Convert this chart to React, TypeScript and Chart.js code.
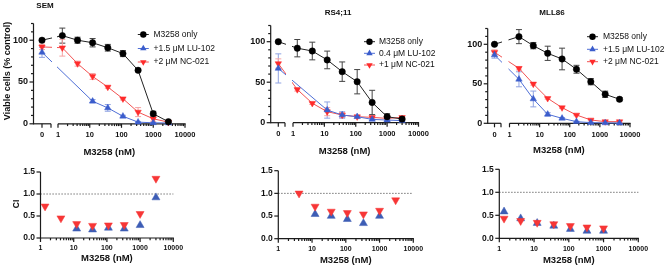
import { useEffect, useRef } from 'react';
import { Chart, registerables } from 'chart.js';

Chart.register(...registerables);

const W = 669;
const H = 268;
const FONT = '"Liberation Sans", Arial, Helvetica, sans-serif';
const AXIS = '#1b1b1b';
const TEXT = '#111111';

// ---------------- data ----------------
// concentrations (nM); 0 = no M3258
const concSem = [0, 1.37, 4.12, 12.3, 37, 111, 333, 1000, 3000];
const concSemLu = [0, 12.3, 37, 111, 333, 1000, 3000];
const concRs = [0, 1.37, 4.12, 12.3, 37, 111, 333, 1000, 3000];
const concRsLu = [0, 12.3, 37, 111, 333, 1000, 3000];
const concMll = [0, 2.06, 6.17, 18.5, 55.6, 167, 500, 1500, 4500];

// viability (% control) with error
const semOnly = [100, 105.5, 100, 97, 91, 84, 64, 12, 2.5];
const semOnlyErr = [1.5, 9, 3.6, 5, 4, 3.6, 1.5, 3, 1];
const semLu = [85.5, 27, 19, 9, 2, 1.2, 1];
const semLuErr = [6, 2, 4, 1.2, 0.8, 0.5, 0.5];
const semNc = [92, 91, 72, 56.7, 44, 30, 14, 6, 2];
const semNcErr = [3.2, 10, 3, 3.5, 1.5, 1.5, 5.4, 3, 1];

const rsOnly = [100, 92, 88.5, 77.5, 63, 50.6, 25, 7.4, 4.5];
const rsOnlyErr = [1, 10.7, 10.9, 10.9, 12, 15, 15, 3.7, 1];
const rsLu = [67, 15.6, 9.5, 7.4, 4.1, 3.3, 2.5];
const rsLuErr = [18, 10, 4, 1.5, 1, 1, 0.5];
const rsNc = [73, 41, 24, 13.6, 9.5, 7.4, 6.6, 5.3, 6.6];
const rsNcErr = [5.8, 2, 1.5, 5, 3, 1.5, 1, 1, 1];

const mllOnly = [100, 109.7, 98.3, 88.6, 81.4, 68.4, 52.7, 36.7, 30.4];
const mllOnlyErr = [1, 8.9, 4, 9, 13.7, 5, 4, 4, 2];
const mllLu = [86.5, 55.7, 30.8, 11.4, 6.3, 2.1, 0.8, 0.5, 0.3];
const mllLuErr = [4, 9.5, 10, 2, 1, 0.5, 0.5, 0.5, 0.5];
const mllNc = [89.9, 69.6, 49.8, 31.6, 19.8, 10.5, 4.2, 2.1, 2.1];
const mllNcErr = [3, 2, 1.5, 1, 1, 1, 1, 1, 1];

// combination index
const semCiConcNc = [1.37, 4.12, 12.3, 37, 111, 333, 1000, 3000];
const semCiNc = [0.72, 0.45, 0.32, 0.28, 0.29, 0.3, 0.55, 1.35];
const semCiConcLu = [12.3, 37, 111, 333, 1000, 3000];
const semCiLu = [0.21, 0.19, 0.23, 0.21, 0.29, 0.92];

const rsCiConcNc = [4.12, 12.3, 37, 111, 333, 1000, 3000];
const rsCiNc = [1.0, 0.71, 0.6, 0.57, 0.54, 0.62, 0.85];
const rsCiConcLu = [12.3, 37, 111, 333, 1000];
const rsCiLu = [0.54, 0.5, 0.43, 0.34, 0.5];

const mllCiConc = [1.37, 4.12, 12.3, 37, 111, 333, 1000];
const mllCiLu = [0.58, 0.43, 0.33, 0.27, 0.2, 0.16, 0.16];
const mllCiNc = [0.43, 0.38, 0.34, 0.31, 0.27, 0.24, 0.22];

// ticks / labels
const yTicksTop = [0, 50, 100];
const yMinorTop = [0, 10, 20, 30, 40, 50, 60, 70, 80, 90, 100, 110, 120];
const yTicksCi = [0, 0.5, 1.0, 1.5];
const xTicksLog = [1, 10, 100, 1000, 10000];
const xZeroTick = [0];
const ciReference = 1.0;

const legendSem = ['M3258 only', '+1.5 \u03bcM LU-102', '+2 \u03bcM NC-021'];
const legendRs = ['M3258 only', '0.4 \u03bcM LU-102', '+1 \u03bcM NC-021'];
const legendMll = ['M3258 only', '+1.5 \u03bcM LU-102', '+2 \u03bcM NC-021'];

const titles = ['SEM', 'RS4;11', 'MLL86'];
const xTitle = 'M3258 (nM)';
const yTitleTop = 'Viable cells (% control)';
const yTitleCi = 'CI';

// ---------------- styles ----------------
interface Style { line: string; fill: string; err: string; shape: string; rot: number; r: number }
const ST_ONLY: Style = { line: '#222222', fill: '#000000', err: '#444444', shape: 'circle', rot: 0, r: 3.2 };
const ST_LU: Style = { line: '#4f6fd6', fill: '#3b5dcc', err: '#8fa2e2', shape: 'triangle', rot: 0, r: 3.7 };
const ST_NC: Style = { line: '#f25252', fill: '#ff2b2b', err: '#f6a3a3', shape: 'triangle', rot: 180, r: 3.7 };
const CI_LU: Style = { line: '#3d5db5', fill: '#3d5db5', err: '#3d5db5', shape: 'triangle', rot: 0, r: 4.6 };
const CI_NC: Style = { line: '#f73636', fill: '#f73636', err: '#f73636', shape: 'triangle', rot: 180, r: 4.6 };

// ---------------- helpers ----------------
function seg(ctx: CanvasRenderingContext2D, x0: number, y0: number, x1: number, y1: number) {
  ctx.beginPath();
  ctx.moveTo(x0, y0);
  ctx.lineTo(x1, y1);
  ctx.stroke();
}

function marker(ctx: CanvasRenderingContext2D, st: Style, x: number, y: number) {
  ctx.fillStyle = st.fill;
  ctx.beginPath();
  if (st.shape === 'circle') {
    ctx.arc(x, y, st.r, 0, Math.PI * 2);
  } else {
    let rad = (st.rot * Math.PI) / 180;
    ctx.moveTo(x + Math.sin(rad) * st.r, y - Math.cos(rad) * st.r);
    for (let k = 0; k < 2; k++) {
      rad += (2 * Math.PI) / 3;
      ctx.lineTo(x + Math.sin(rad) * st.r, y - Math.cos(rad) * st.r);
    }
    ctx.closePath();
  }
  ctx.fill();
}

function pointDataset(points: { x: number; y: number }[], st: Style, showLine: boolean, errs?: number[]) {
  return {
    data: points,
    errs,
    errColor: st.err,
    showLine,
    borderColor: st.line,
    borderWidth: 1,
    pointStyle: st.shape,
    pointRotation: st.rot,
    pointRadius: st.r,
    pointHoverRadius: st.r,
    pointBackgroundColor: st.fill,
    pointBorderColor: st.fill,
    pointBorderWidth: 0.5,
    tension: 0,
    clip: false,
  } as any;
}

function drawErrors(chart: any) {
  const ctx: CanvasRenderingContext2D = chart.ctx;
  const xs = chart.scales.x;
  const ys = chart.scales.y;
  chart.data.datasets.forEach((ds: any) => {
    if (!ds.errs) return;
    ctx.strokeStyle = ds.errColor;
    ctx.lineWidth = 1;
    ds.data.forEach((pt: any, i: number) => {
      const e = ds.errs[i];
      if (!e) return;
      const x = xs.getPixelForValue(pt.x);
      const y0 = ys.getPixelForValue(pt.y + e);
      const y1 = ys.getPixelForValue(Math.max(0, pt.y - e));
      seg(ctx, x, y0, x, y1);
      seg(ctx, x - 3, y0, x + 3, y0);
      seg(ctx, x - 3, y1, x + 3, y1);
    });
  });
}

function drawLegend(ctx: CanvasRenderingContext2D, labels: string[], styles: Style[], mx: number, tx: number, ys: number[]) {
  ctx.save();
  ctx.font = `8.5px ${FONT}`;
  ctx.textAlign = 'left';
  ctx.textBaseline = 'middle';
  labels.forEach((lab, i) => {
    const st = styles[i];
    ctx.strokeStyle = st.line;
    ctx.lineWidth = 1;
    seg(ctx, mx - 5.5, ys[i], mx + 5.5, ys[i]);
    marker(ctx, st, mx, ys[i]);
    ctx.fillStyle = TEXT;
    ctx.fillText(lab, tx, ys[i]);
  });
  ctx.restore();
}

function text(ctx: CanvasRenderingContext2D, s: string, x: number, y: number, font: string, rot = 0) {
  ctx.save();
  ctx.translate(x, y);
  if (rot) ctx.rotate(rot);
  ctx.font = font;
  ctx.fillStyle = TEXT;
  ctx.textAlign = 'center';
  ctx.textBaseline = 'middle';
  ctx.fillText(s, 0, 0);
  ctx.restore();
}

function logMinors(): number[] {
  const out: number[] = [];
  for (let k = 0; k < 4; k++) for (let m = 2; m <= 9; m++) out.push(m * Math.pow(10, k));
  return out;
}

// ---------------- panels ----------------
interface Geo { left: number; right: number; top: number; bottom: number }
interface TopPanel {
  g: Geo & { zeroX: number; segEndX: number; oneX: number };
  series: { conc: number[]; vals: number[]; errs: number[]; st: Style }[];
  legend: string[];
  legMX: number;
  legTX: number;
  legY: number[];
  title: string;
  titleX: number;
  titleY: number;
  xTitleY: number;
  yTitle?: boolean;
}

function topConfig(p: TopPanel): any {
  const g = p.g;
  const D = (g.right - g.oneX) / 4;
  const G = (g.oneX - g.zeroX) / D;
  const pMin = -(g.zeroX - g.left) / D;
  const pMax = G + 4;
  const pos = (c: number) => (c === 0 ? 0 : G + Math.log10(c));
  const segEndP = (g.segEndX - g.zeroX) / D;

  const datasets = p.series.map((s) =>
    pointDataset(s.conc.map((c, i) => ({ x: pos(c), y: s.vals[i] })), s.st, true, s.errs)
  );

  const plugin = {
    id: 'topfig',
    beforeDatasetsDraw(chart: any) {
      const ctx: CanvasRenderingContext2D = chart.ctx;
      const a = chart.chartArea;
      const xs = chart.scales.x;
      const ys = chart.scales.y;
      ctx.save();
      ctx.strokeStyle = AXIS;
      ctx.lineWidth = 1.2;
      // y axis
      seg(ctx, a.left, a.top, a.left, a.bottom + 0.6);
      yMinorTop.forEach((v) => {
        const y = ys.getPixelForValue(v);
        seg(ctx, a.left - (yTicksTop.includes(v) ? 4 : 2.5), y, a.left, y);
      });
      ctx.fillStyle = TEXT;
      ctx.font = `bold 9px ${FONT}`;
      ctx.textAlign = 'right';
      ctx.textBaseline = 'middle';
      yTicksTop.forEach((v) => ctx.fillText(String(v), a.left - 5.5, ys.getPixelForValue(v)));
      // x axis: zero segment
      const yb = a.bottom;
      const segEndPx = xs.getPixelForValue(segEndP);
      seg(ctx, a.left, yb, segEndPx, yb);
      xZeroTick.forEach((v) => seg(ctx, xs.getPixelForValue(pos(v)), yb, xs.getPixelForValue(pos(v)), yb + 4));
      seg(ctx, segEndPx, yb, segEndPx, yb + 4);
      // log segment
      const onePx = xs.getPixelForValue(pos(1));
      seg(ctx, onePx, yb, a.right + 0.6, yb);
      xTicksLog.forEach((v) => {
        const x = xs.getPixelForValue(pos(v));
        seg(ctx, x, yb, x, yb + 4);
      });
      logMinors().forEach((v) => {
        const x = xs.getPixelForValue(pos(v));
        seg(ctx, x, yb, x, yb + 2.3);
      });
      ctx.font = `bold 7.5px ${FONT}`;
      ctx.textAlign = 'center';
      [...xZeroTick, ...xTicksLog].forEach((v) => ctx.fillText(String(v), xs.getPixelForValue(pos(v)), yb + 11.5));
      drawErrors(chart);
      ctx.restore();
    },
    afterDatasetsDraw(chart: any) {
      const ctx: CanvasRenderingContext2D = chart.ctx;
      const a = chart.chartArea;
      const xs = chart.scales.x;
      const x0 = xs.getPixelForValue(segEndP) + 1;
      const x1 = xs.getPixelForValue(pos(1)) - 1;
      ctx.save();
      ctx.fillStyle = '#ffffff';
      ctx.fillRect(x0, a.top - 2, x1 - x0, a.bottom - a.top + 1);
      ctx.restore();
    },
    afterDraw(chart: any) {
      const ctx: CanvasRenderingContext2D = chart.ctx;
      const a = chart.chartArea;
      drawLegend(ctx, p.legend, p.series.map((s) => s.st), p.legMX, p.legTX, p.legY);
      text(ctx, p.title, p.titleX, p.titleY, `bold 8px ${FONT}`);
      text(ctx, xTitle, (a.left + a.right) / 2, p.xTitleY, `bold 9.5px ${FONT}`);
      if (p.yTitle) text(ctx, yTitleTop, 8, 71, `bold 9px ${FONT}`, -Math.PI / 2);
    },
  };

  return {
    type: 'line',
    data: { datasets },
    options: {
      responsive: false,
      animation: false,
      events: [],
      layout: { padding: { left: g.left, right: W - g.right, top: g.top, bottom: H - g.bottom } },
      plugins: { legend: { display: false }, tooltip: { enabled: false }, title: { display: false } },
      scales: {
        x: { type: 'linear', display: false, min: pMin, max: pMax, bounds: 'data' },
        y: { type: 'linear', display: false, min: 0, max: 120, bounds: 'data' },
      },
    },
    plugins: [plugin],
  };
}

interface CiPanel {
  g: Geo;
  series: { conc: number[]; vals: number[]; st: Style }[];
  xTitleY: number;
  yTitle?: boolean;
}

function ciConfig(p: CiPanel): any {
  const g = p.g;
  const datasets = p.series.map((s) =>
    pointDataset(s.conc.map((c, i) => ({ x: c, y: s.vals[i] })), s.st, false)
  );
  const plugin = {
    id: 'cifig',
    beforeDatasetsDraw(chart: any) {
      const ctx: CanvasRenderingContext2D = chart.ctx;
      const a = chart.chartArea;
      const xs = chart.scales.x;
      const ys = chart.scales.y;
      ctx.save();
      // reference line
      ctx.strokeStyle = '#555555';
      ctx.lineWidth = 1;
      ctx.setLineDash([1.2, 1.8]);
      const yr = ys.getPixelForValue(ciReference);
      seg(ctx, a.left, yr, a.right, yr);
      ctx.setLineDash([]);
      ctx.strokeStyle = AXIS;
      ctx.lineWidth = 1.2;
      seg(ctx, a.left, a.top, a.left, a.bottom + 0.6);
      yTicksCi.forEach((v) => {
        const y = ys.getPixelForValue(v);
        seg(ctx, a.left - 4, y, a.left, y);
      });
      ctx.fillStyle = TEXT;
      ctx.font = `bold 8.5px ${FONT}`;
      ctx.textAlign = 'right';
      ctx.textBaseline = 'middle';
      yTicksCi.forEach((v) => ctx.fillText(v.toFixed(1), a.left - 5.5, ys.getPixelForValue(v)));
      const yb = a.bottom;
      seg(ctx, a.left, yb, a.right + 0.6, yb);
      xTicksLog.forEach((v) => {
        const x = xs.getPixelForValue(v);
        seg(ctx, x, yb, x, yb + 4);
      });
      logMinors().forEach((v) => {
        const x = xs.getPixelForValue(v);
        seg(ctx, x, yb, x, yb + 2.3);
      });
      ctx.font = `bold 7px ${FONT}`;
      ctx.textAlign = 'center';
      xTicksLog.forEach((v) => ctx.fillText(String(v), xs.getPixelForValue(v), yb + 10.5));
      ctx.restore();
    },
    afterDraw(chart: any) {
      const ctx: CanvasRenderingContext2D = chart.ctx;
      const a = chart.chartArea;
      text(ctx, xTitle, (a.left + a.right) / 2, p.xTitleY, `bold 9.5px ${FONT}`);
      if (p.yTitle) text(ctx, yTitleCi, 17, 204, `bold 8.5px ${FONT}`, -Math.PI / 2);
    },
  };
  return {
    type: 'line',
    data: { datasets },
    options: {
      responsive: false,
      animation: false,
      events: [],
      layout: { padding: { left: g.left, right: W - g.right, top: g.top, bottom: H - g.bottom } },
      plugins: { legend: { display: false }, tooltip: { enabled: false }, title: { display: false } },
      scales: {
        x: { type: 'logarithmic', display: false, min: 1, max: 10000, bounds: 'data' },
        y: { type: 'linear', display: false, min: 0, max: 1.5, bounds: 'data' },
      },
    },
    plugins: [plugin],
  };
}

const topPanels: TopPanel[] = [
  {
    g: { left: 33.5, right: 185, top: 23.5, bottom: 123.8, zeroX: 42, segEndX: 51, oneX: 58 },
    series: [
      { conc: concSem, vals: semOnly, errs: semOnlyErr, st: ST_ONLY },
      { conc: concSemLu, vals: semLu, errs: semLuErr, st: ST_LU },
      { conc: concSem, vals: semNc, errs: semNcErr, st: ST_NC },
    ],
    legend: legendSem,
    legMX: 143.3,
    legTX: 153.5,
    legY: [34.5, 48.5, 62],
    title: titles[0],
    titleX: 45,
    titleY: 6,
    xTitleY: 152.5,
    yTitle: true,
  },
  {
    g: { left: 270.7, right: 418.5, top: 25.5, bottom: 122.7, zeroX: 278.3, segEndX: 285, oneX: 293 },
    series: [
      { conc: concRs, vals: rsOnly, errs: rsOnlyErr, st: ST_ONLY },
      { conc: concRsLu, vals: rsLu, errs: rsLuErr, st: ST_LU },
      { conc: concRs, vals: rsNc, errs: rsNcErr, st: ST_NC },
    ],
    legend: legendRs,
    legMX: 369.5,
    legTX: 379,
    legY: [41.7, 53.3, 65],
    title: titles[1],
    titleX: 338,
    titleY: 13,
    xTitleY: 151,
  },
  {
    g: { left: 487.7, right: 630, top: 28.5, bottom: 123.3, zeroX: 494.5, segEndX: 501, oneX: 509.5 },
    series: [
      { conc: concMll, vals: mllOnly, errs: mllOnlyErr, st: ST_ONLY },
      { conc: concMll, vals: mllLu, errs: mllLuErr, st: ST_LU },
      { conc: concMll, vals: mllNc, errs: mllNcErr, st: ST_NC },
    ],
    legend: legendMll,
    legMX: 592.5,
    legTX: 603,
    legY: [36.7, 49.3, 61.7],
    title: titles[2],
    titleX: 552,
    titleY: 12.5,
    xTitleY: 150,
  },
];

const ciPanels: CiPanel[] = [
  {
    g: { left: 40.5, right: 173.3, top: 172, bottom: 238 },
    series: [
      { conc: semCiConcNc, vals: semCiNc, st: CI_NC },
      { conc: semCiConcLu, vals: semCiLu, st: CI_LU },
    ],
    xTitleY: 258.5,
    yTitle: true,
  },
  {
    g: { left: 278.3, right: 413.3, top: 170.7, bottom: 238.7 },
    series: [
      { conc: rsCiConcNc, vals: rsCiNc, st: CI_NC },
      { conc: rsCiConcLu, vals: rsCiLu, st: CI_LU },
    ],
    xTitleY: 260,
  },
  {
    g: { left: 499.3, right: 638.3, top: 169.3, bottom: 238.3 },
    series: [
      { conc: mllCiConc, vals: mllCiNc, st: CI_NC },
      { conc: mllCiConc, vals: mllCiLu, st: CI_LU },
    ],
    xTitleY: 260.5,
  },
];

const configs: (() => any)[] = [
  ...topPanels.map((p) => () => topConfig(p)),
  ...ciPanels.map((p) => () => ciConfig(p)),
];

export default function App() {
  const refs = useRef<(HTMLCanvasElement | null)[]>([]);
  useEffect(() => {
    const charts = configs.map((make, i) => new Chart(refs.current[i] as HTMLCanvasElement, make()));
    return () => charts.forEach((c) => c.destroy());
  }, []);
  return (
    <div style={{ position: 'absolute', left: 0, top: 0, width: W, height: H, background: '#ffffff', overflow: 'hidden' }}>
      {configs.map((_, i) => (
        <canvas
          key={i}
          ref={(el) => {
            refs.current[i] = el;
          }}
          width={W}
          height={H}
          style={{ position: 'absolute', left: 0, top: 0, width: W, height: H }}
        />
      ))}
    </div>
  );
}
